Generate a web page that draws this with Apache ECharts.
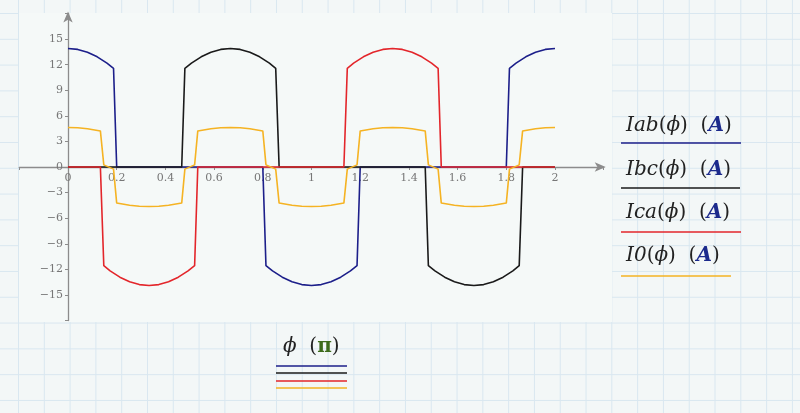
<!DOCTYPE html>
<html>
<head>
<meta charset="utf-8">
<script src="https://cdn.jsdelivr.net/npm/echarts@6/dist/echarts.min.js"></script>
<style>
html,body{margin:0;padding:0;width:800px;height:413px;overflow:hidden;}
body{
  background-color:#f3f7f7;
  background-image:
    linear-gradient(to right, #d9e7f0 1px, transparent 1px),
    linear-gradient(to bottom, #d9e7f0 1px, transparent 1px);
  background-size:25.8px 25.8px;
  background-position:18px 13px;
}
#panel{position:absolute;left:19px;top:13px;width:593px;height:309px;background:#f5f9f8;}
#chart{position:absolute;left:0;top:0;width:800px;height:413px;}
</style>
</head>
<body>
<div id="panel"></div>
<div id="chart"></div>
<script>
// Data: [phi (in units of pi), current (A)]
const iab = [[0,13.9],[0.04,13.79],[0.08,13.46],[0.12,12.92],[0.16,12.18],[0.187,11.57],[0.2,0],
  [0.8,0],[0.813,-11.57],[0.84,-12.18],[0.88,-12.92],[0.92,-13.46],[0.96,-13.79],[1,-13.9],[1.04,-13.79],[1.08,-13.46],[1.12,-12.92],[1.16,-12.18],[1.187,-11.57],[1.2,0],
  [1.8,0],[1.813,11.57],[1.84,12.18],[1.88,12.92],[1.92,13.46],[1.96,13.79],[2,13.9]];
const ibc = [[0,0],[0.467,0],[0.48,11.57],[0.507,12.18],[0.547,12.92],[0.587,13.46],[0.627,13.79],[0.667,13.9],[0.707,13.79],[0.747,13.46],[0.787,12.92],[0.827,12.18],[0.853,11.57],[0.867,0],
  [1.467,0],[1.48,-11.57],[1.507,-12.18],[1.547,-12.92],[1.587,-13.46],[1.627,-13.79],[1.667,-13.9],[1.707,-13.79],[1.747,-13.46],[1.787,-12.92],[1.827,-12.18],[1.853,-11.57],[1.867,0],[2,0]];
const ica = [[0,0],[0.133,0],[0.147,-11.57],[0.173,-12.18],[0.213,-12.92],[0.253,-13.46],[0.293,-13.79],[0.333,-13.9],[0.373,-13.79],[0.413,-13.46],[0.453,-12.92],[0.493,-12.18],[0.52,-11.57],[0.533,0],
  [1.133,0],[1.147,11.57],[1.173,12.18],[1.213,12.92],[1.253,13.46],[1.293,13.79],[1.333,13.9],[1.373,13.79],[1.413,13.46],[1.453,12.92],[1.493,12.18],[1.52,11.57],[1.533,0],[2,0]];
const i0 = [[0,4.63],[0.04,4.6],[0.08,4.49],[0.133,4.23],[0.147,0.25],[0.187,-0.25],[0.2,-4.23],
  [0.253,-4.49],[0.293,-4.6],[0.333,-4.63],[0.373,-4.6],[0.413,-4.49],[0.467,-4.23],[0.48,-0.25],[0.52,0.25],[0.533,4.23],
  [0.587,4.49],[0.627,4.6],[0.667,4.63],[0.707,4.6],[0.747,4.49],[0.8,4.23],[0.813,0.25],[0.853,-0.25],[0.867,-4.23],
  [0.92,-4.49],[0.96,-4.6],[1,-4.63],[1.04,-4.6],[1.08,-4.49],[1.133,-4.23],[1.147,-0.25],[1.187,0.25],[1.2,4.23],
  [1.253,4.49],[1.293,4.6],[1.333,4.63],[1.373,4.6],[1.413,4.49],[1.467,4.23],[1.48,0.25],[1.52,-0.25],[1.533,-4.23],
  [1.587,-4.49],[1.627,-4.6],[1.667,-4.63],[1.707,-4.6],[1.747,-4.49],[1.8,-4.23],[1.813,-0.25],[1.853,0.25],[1.867,4.23],
  [1.92,4.49],[1.96,4.6],[2,4.63]];
const seriesNames = ['Iab', 'Ibc', 'Ica', 'I0'];
const seriesColors = ['#1c1f8a', '#1a1a1a', '#e3262b', '#f5b323'];
const xTickMin = 0, xTickMax = 2;
const yTickMin = -15, yTickMax = 15;

// layout
const W = 800, H = 413;
const gridL = 19.3, gridR = 196.3, gridT = 13.5, gridB = 92.5;
const xMin = -0.2, xMax = 2.2, yMin = -18, yMax = 18;
const plotW = W - gridL - gridR, plotH = H - gridT - gridB;
const xAxisOffset = -(0 - yMin) / (yMax - yMin) * plotH;   // move x axis up to y=0
const yAxisOffset = -(0 - xMin) / (xMax - xMin) * plotW;   // move y axis right to x=0

const chart = echarts.init(document.getElementById('chart'), null, {renderer:'canvas'});
const serif = '"DejaVu Serif", "Liberation Serif", serif';
const legendSerif = '"DejaVu Serif", "Liberation Serif", serif';
const FS = 20;
function legendText(name, y){
  return {
    type:'text', left: 626, top: y,
    style:{
      rich:{
        n:{fontFamily:legendSerif, fontStyle:'italic', fontSize:FS, fill:'#222'},
        p:{fontFamily:legendSerif, fontSize:FS, fill:'#222'},
        a:{fontFamily:legendSerif, fontStyle:'italic', fontWeight:'bold', fontSize:FS, fill:'#1c2a8c'}
      },
      text:'{n|'+name+'}{p|(}{n|ϕ}{p|)  (}{a|A}{p|)}'
    }
  };
}
function legendLine(x1,x2,y,color){
  return {type:'line', shape:{x1:x1,y1:y,x2:x2,y2:y}, style:{stroke:color, lineWidth:1.6}};
}
const data = [iab, ibc, ica, i0];
const axisColor = '#8c8c8c';
chart.setOption({
  animation:false,
  grid:{left:gridL, right:gridR, top:gridT, bottom:gridB, containLabel:false, outerBoundsMode:'none'},
  xAxis:{
    type:'value', min:xMin, max:xMax, interval:0.2, position:'bottom', offset:xAxisOffset,
    axisLine:{onZero:false, lineStyle:{color:axisColor, width:1.3}, symbol:['none','arrow'], symbolSize:[7,11], symbolOffset:[0,2]},
    axisTick:{show:true, length:3, lineStyle:{color:axisColor}},
    splitLine:{show:false},
    axisLabel:{
      fontFamily:serif, fontSize:11, color:'#777', margin:6,
      formatter:function(v){ const r=Math.round(v*10)/10; if(r<xTickMin-1e-9||r>xTickMax+1e-9) return ''; return String(r); }
    }
  },
  yAxis:{
    type:'value', min:yMin, max:yMax, interval:3, position:'left', offset:yAxisOffset,
    axisLine:{onZero:false, lineStyle:{color:axisColor, width:1.3}, symbol:['none','arrow'], symbolSize:[7,11], symbolOffset:[0,2]},
    axisTick:{show:true, length:3, lineStyle:{color:axisColor}},
    splitLine:{show:false},
    axisLabel:{
      fontFamily:serif, fontSize:11, color:'#777', margin:5,
      formatter:function(v){ if(v<yTickMin||v>yTickMax) return ''; return v<0 ? '\u2212'+Math.abs(v) : String(v); }
    }
  },
  series: data.map((d,i)=>({
    name:seriesNames[i], type:'line', data:d, showSymbol:false, symbol:'none',
    lineStyle:{color:seriesColors[i], width:1.6}, z:2+i
  })),
  graphic:[
    legendText('Iab', 116), legendLine(621,741,143,seriesColors[0]),
    legendText('Ibc', 160), legendLine(621,740,188,seriesColors[1]),
    legendText('Ica', 203), legendLine(621,741,232,seriesColors[2]),
    legendText('I0', 246), legendLine(621,731,276,seriesColors[3]),
    {type:'text', left:283, top:337, style:{
      rich:{
        n:{fontFamily:legendSerif, fontStyle:'italic', fontSize:FS, fill:'#222'},
        p:{fontFamily:legendSerif, fontSize:FS, fill:'#222'},
        g:{fontFamily:legendSerif, fontWeight:'bold', fontSize:FS, fill:'#3d6b1c'}
      },
      text:'{n|ϕ}{p|  (}{g|π}{p|)}'
    }},
    legendLine(276,347,366,seriesColors[0]),
    legendLine(276,347,373,seriesColors[1]),
    legendLine(276,347,381,seriesColors[2]),
    legendLine(276,347,388,seriesColors[3])
  ]
});
</script>
</body>
</html>
